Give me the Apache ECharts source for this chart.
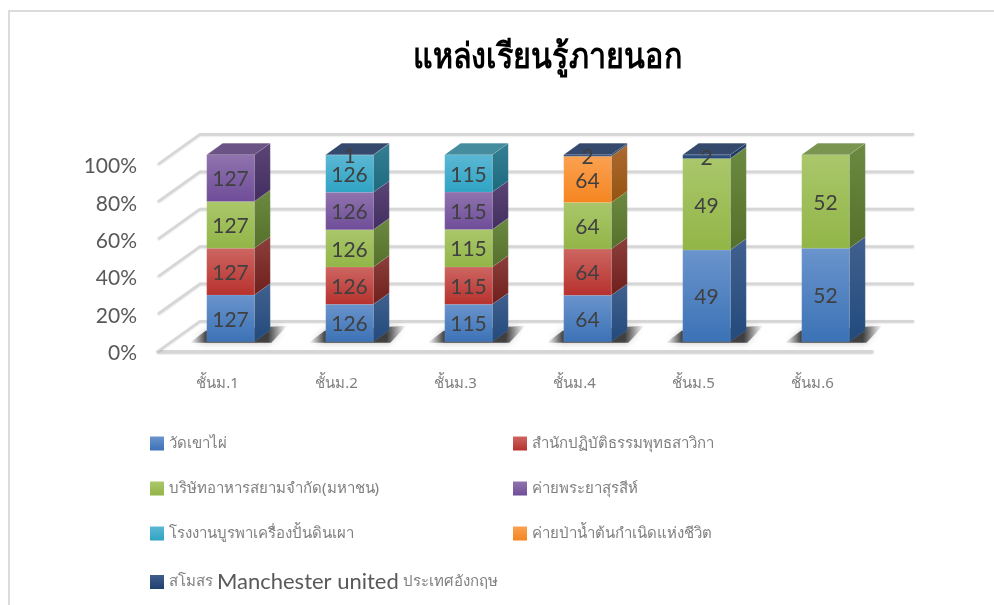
<!DOCTYPE html>
<html><head><meta charset="utf-8">
<style>html,body{margin:0;padding:0;background:#fff}#c{width:994px;height:605px}</style>
<script src="https://cdn.jsdelivr.net/npm/echarts@6/dist/echarts.min.js"></script>
</head><body><div id="c"></div>
<script>
const chartTitle = 'แหล่งเรียนรู้ภายนอก';
const categories = ['ชั้นม.1','ชั้นม.2','ชั้นม.3','ชั้นม.4','ชั้นม.5','ชั้นม.6'];
const seriesNames = ['วัดเขาไผ่','สำนักปฏิบัติธรรมพุทธสาวิกา','บริษัทอาหารสยามจำกัด(มหาชน)','ค่ายพระยาสุรสีห์','โรงงานบูรพาเครื่องปั้นดินเผา','ค่ายป่าน้ำต้นกำเนิดแห่งชีวิต','สโมสร Manchester united ประเทศอังกฤษ'];
const s1 = [127,126,115,64,49,52];
const s2 = [127,126,115,64,0,0];
const s3 = [127,126,115,64,49,52];
const s4 = [127,126,115,0,0,0];
const s5 = [0,126,115,0,0,0];
const s6 = [0,0,0,64,0,0];
const s7 = [0,1,0,2,2,0];
const allSeries = [s1,s2,s3,s4,s5,s6,s7];
const yTicks = [0,20,40,60,80,100];
// light, mid-dark front gradient; side gradient; top
const palette = [
 ['#6a94cc','#3b72b6','#41618f','#224a7c','#4f74a3'],
 ['#cd6661','#b7312e','#8c3f3c','#6f1f1c','#9c4b48'],
 ['#aac76b','#92b547','#6d8a42','#54702a','#7a9550'],
 ['#9073ae','#6f4d99','#5a4574','#432e62','#6b5485'],
 ['#5cb8d4','#2fa3c4','#357f93','#1d6a80','#458c9f'],
 ['#fba151','#f58520','#ad6a32','#94530f','#b97a40'],
 ['#3f5f8a','#1f4170','#2b4870','#17345c','#34496b']
];
const totals = categories.map((_, i) => allSeries.reduce((a, s) => a + s[i], 0));
const DEPTH = [42, -30];
const BAR_DEPTH_A = 0.31, BAR_DEPTH_B = 0.69, BAR_W = 0.4;
const grad = (a, b) => new echarts.graphic.LinearGradient(0,0,0,1,[{offset:0,color:a},{offset:1,color:b}]);

function gridItem(params, api){
  const p = api.coord([0, api.value(0)]);
  const x0 = params.coordSys.x, x1 = x0 + params.coordSys.width, y = p[1];
  const style = {fill:'none', stroke:'#d6d6d6', lineWidth:2, shadowColor:'rgba(0,0,0,0.22)', shadowBlur:2, shadowOffsetY:1};
  return {type:'polyline', shape:{points:[[x0,y],[x0+DEPTH[0],y+DEPTH[1]],[x1+DEPTH[0],y+DEPTH[1]]]}, style};
}
function shadowItem(params, api){
  const p = api.coord([api.value(0), 0]);
  const w = api.size([1,0])[0]*BAR_W;
  const cx = p[0]+DEPTH[0]*BAR_DEPTH_A, by = p[1]+DEPTH[1]*BAR_DEPTH_A;
  const l = cx-w/2;
  return {type:'polygon', shape:{points:[[l-17,by+1],[l-1,by-11],[l+w+33,by-16],[l+w+17,by+1]]},
    style:{fill:new echarts.graphic.LinearGradient(0,0,1,0,[{offset:0,color:'rgba(90,90,90,0)'},{offset:0.17,color:'rgba(40,40,40,0.85)'},{offset:0.8,color:'rgba(40,40,40,0.85)'},{offset:1,color:'rgba(90,90,90,0)'}]), shadowBlur:7, shadowColor:'rgba(0,0,0,0.3)'}};
}
function segItem(pal, isTopFn){
  return function(params, api){
    const raw = api.value(3);
    if(!raw) return null;
    const idx = api.value(0);
    const a = api.coord([idx, api.value(1)]), b = api.coord([idx, api.value(2)]);
    const w = api.size([1,0])[0]*BAR_W;
    const sx = DEPTH[0]*BAR_DEPTH_A, sy = DEPTH[1]*BAR_DEPTH_A;
    const dx = DEPTH[0]*(BAR_DEPTH_B-BAR_DEPTH_A), dy = DEPTH[1]*(BAR_DEPTH_B-BAR_DEPTH_A);
    const l = a[0]+sx-w/2, r = l+w, yb = a[1]+sy, yt = b[1]+sy;
    const edge = {stroke:'rgba(255,255,255,0.18)', lineWidth:0.5};
    const children = [
      {type:'polygon', shape:{points:[[r,yb],[r,yt],[r+dx,yt+dy],[r+dx,yb+dy]]}, style:Object.assign({fill:grad(pal[2],pal[3])},edge)},
      {type:'rect', shape:{x:l,y:yt,width:w,height:yb-yt}, style:Object.assign({fill:grad(pal[0],pal[1])},edge)}
    ];
    if(isTopFn(idx)) children.push({type:'polygon', shape:{points:[[l,yt],[r,yt],[r+dx,yt+dy],[l+dx,yt+dy]]}, style:Object.assign({fill:pal[4]},edge)});
    children.push({type:'text', z2:50, style:{text:String(raw), x:(l+r)/2, y:(yb+yt)/2+1.5, align:'center', verticalAlign:'middle', fill:'#404040', font:'21px Lato, "Noto Sans", sans-serif'}});
    return {type:'group', children};
  };
}
const series = [
  {type:'custom', name:'_grid', silent:true, z:1, coordinateSystem:'cartesian2d', encode:{y:0}, data:yTicks.map(v=>[v]), renderItem:gridItem},
  {type:'custom', name:'_floor', silent:true, z:2, coordinateSystem:'cartesian2d', encode:{x:0}, data:categories.map((c,i)=>[i]), renderItem:shadowItem}
];
const cum = categories.map(()=>0);
const topIdx = categories.map((_,i)=>{let t=-1; allSeries.forEach((s,k)=>{if(s[i]>0)t=k}); return t;});
allSeries.forEach((vals,k)=>{
  const data = vals.map((v,i)=>{const st=cum[i]; const e=st+v/totals[i]*100; cum[i]=e; return [i,st,e,v];});
  series.push({type:'custom', name:seriesNames[k], z:3+k, coordinateSystem:'cartesian2d', encode:{x:0,y:[1,2]},
    itemStyle:{color:grad(palette[k][0],palette[k][1])}, data, renderItem:segItem(palette[k], i=>topIdx[i]===k)});
});
const legendText = {fontFamily:'"Noto Sans", "DejaVu Sans", sans-serif', fontSize:15, color:'#7f7f7f',
  rich:{en:{fontFamily:'Lato, sans-serif', fontSize:22, color:'#595959'}, th:{fontFamily:'"Noto Sans", sans-serif', fontSize:15, color:'#7f7f7f'}}};
const legFmt = n => { const m = n.match(/^(.*?)(Manchester united)(.*)$/); return m ? `{th|${m[1]}}{en|${m[2]}}{th|${m[3]}}` : n; };
const leg = (names,left) => ({orient:'vertical', left, top:436, itemWidth:14, itemHeight:14, itemGap:30, icon:'rect', selectedMode:false, data:names, formatter:legFmt, textStyle:legendText, padding:0});
const chart = echarts.init(document.getElementById('c'), null, {renderer:'canvas'});
chart.setOption({
  animation:false,
  backgroundColor:'#fff',
  legend:[leg([seriesNames[0],seriesNames[2],seriesNames[4],seriesNames[6]],150), leg([seriesNames[1],seriesNames[3],seriesNames[5]],513)],
  grid:{left:158, top:164, width:714, height:187},
  xAxis:{type:'category', data:categories, axisTick:{show:false}, axisLine:{show:true,onZero:false,lineStyle:{color:'#d6d6d6',width:3,shadowColor:'rgba(0,0,0,0.2)',shadowBlur:2,shadowOffsetY:1}},
    axisLabel:{color:'#7f7f7f', fontSize:15, margin:25, fontFamily:'"Noto Sans", sans-serif'}},
  yAxis:{type:'value', min:0, max:100, interval:20, axisLine:{show:false}, axisTick:{show:false}, splitLine:{show:false},
    axisLabel:{formatter:'{value}%', color:'#595959', fontSize:21, margin:21, verticalAlign:'top', lineHeight:5, showMinLabel:true, showMaxLabel:true, fontFamily:'Lato, sans-serif'}},
  graphic:[
    {type:'polyline', silent:true, shape:{points:[[9,605],[9,11],[994,11]]}, style:{fill:'none',stroke:'#dcdcdc',lineWidth:2}},
    {type:'text', silent:true, x:547.5, y:58, scaleX:0.87, style:{text:chartTitle, align:'center', verticalAlign:'middle', fill:'#000', font:'bold 35px "Noto Sans", sans-serif'}}
  ],
  series
});
</script></body></html>
